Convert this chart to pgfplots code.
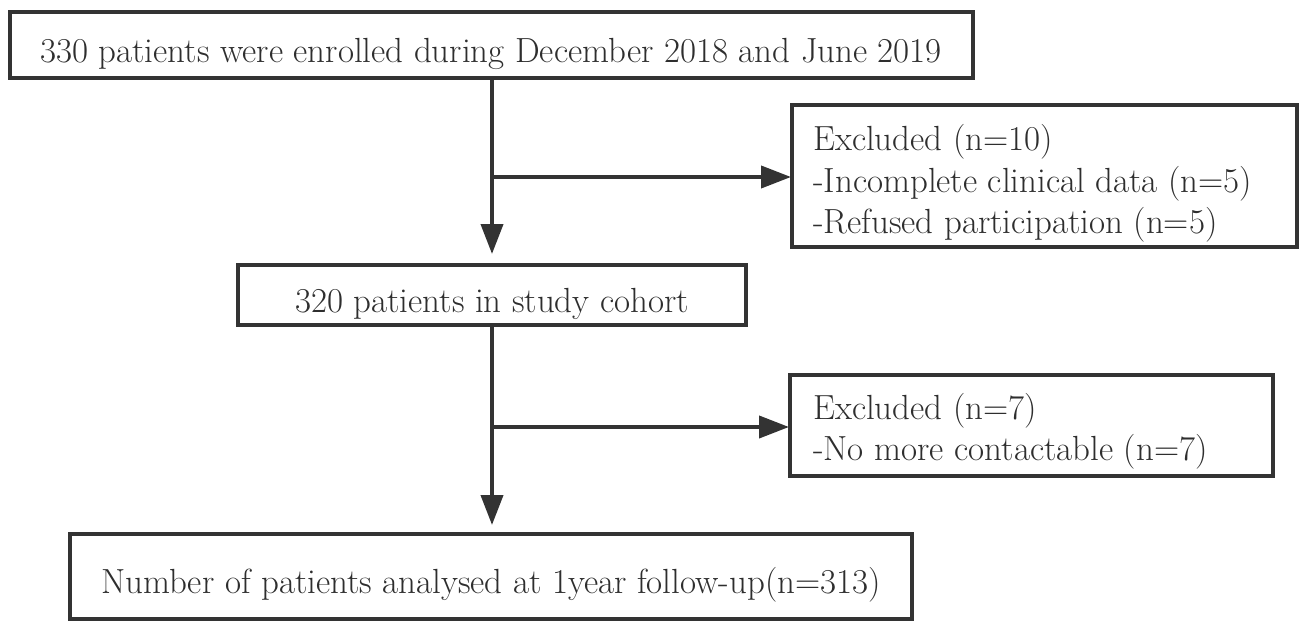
\documentclass[border=0pt]{standalone}
\usepackage{pgfplots}
\pgfplotsset{compat=1.18}
\usetikzlibrary{arrows.meta}
\definecolor{ln}{HTML}{333333}
\definecolor{tx}{HTML}{2e2e2e}
\newsavebox\tb
\begin{document}
\sbox\tb{\fontsize{34bp}{41bp}\selectfont 330 patients were enrolled during December 2018 and June 2019}%
\pgfmathsetmacro\fsz{34*(902*1.00375/\the\wd\tb)}%
\begin{tikzpicture}
\begin{axis}[width=1302bp,height=622bp,scale only axis,
  xmin=0,xmax=1302,ymin=0,ymax=622,y dir=reverse,
  axis lines=none,clip=false,
  every axis plot/.append style={line width=4bp,color=ln,mark=none}]
\coordinate (ll) at (axis cs:0,622);
\coordinate (ur) at (axis cs:1302,0);
% boxes
\draw[line width=4bp,ln] (axis cs:10,12) rectangle (axis cs:973,78);
\draw[line width=4bp,ln] (axis cs:792,105) rectangle (axis cs:1297,247);
\draw[line width=4bp,ln] (axis cs:238,265) rectangle (axis cs:746,325);
\draw[line width=4bp,ln] (axis cs:790,375) rectangle (axis cs:1273,476);
\draw[line width=4bp,ln] (axis cs:70,534) rectangle (axis cs:912,619);
% arrows
\addplot[-{Triangle[length=30bp,width=22bp]}] coordinates {(492,78) (492,254)};
\addplot[-{Triangle[length=30bp,width=22bp]}] coordinates {(492,177) (791,177)};
\addplot[-{Triangle[length=30bp,width=22bp]}] coordinates {(492,325) (492,525)};
\addplot[-{Triangle[length=30bp,width=22bp]}] coordinates {(492,427) (789,427)};
% texts
\tikzset{t/.style={inner sep=0pt,text=tx,font=\fontsize{\fsz bp}{41bp}\selectfont}}
\node[t,anchor=base] at (axis cs:491,63) {330 patients were enrolled during December 2018 and June 2019};
\node[t,anchor=base west] at (axis cs:813,150) {Excluded (n=10)};
\node[t,anchor=base west] at (axis cs:813,192) {-Incomplete clinical data (n=5)};
\node[t,anchor=base west] at (axis cs:813,233) {-Refused participation (n=5)};
\node[t,anchor=base] at (axis cs:492,312) {320 patients in study cohort};
\node[t,anchor=base west] at (axis cs:813,419) {Excluded (n=7)};
\node[t,anchor=base west] at (axis cs:813,460) {-No more contactable (n=7)};
\node[t,anchor=base] at (axis cs:491,593) {Number of patients analysed at 1year follow-up(n=313)};
\end{axis}
\pgfresetboundingbox
\path[use as bounding box] (ll) rectangle (ur);
\end{tikzpicture}
\end{document}
